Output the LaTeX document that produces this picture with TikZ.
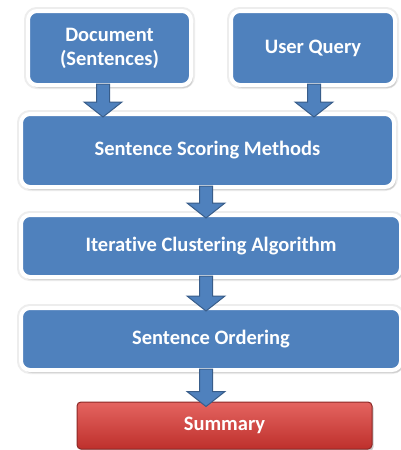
\documentclass[tikz,border=0pt]{standalone}
\usepackage{fontspec}
\setmainfont{Carlito}[Ligatures={NoCommon}]
\usetikzlibrary{calc,shadows}
\definecolor{boxblue}{RGB}{79,129,189}
\definecolor{edgeblue}{RGB}{56,93,138}
\definecolor{redtop}{RGB}{228,100,96}
\definecolor{redbot}{RGB}{190,48,44}
\definecolor{rededge}{RGB}{140,40,38}
\tikzset{
  bluebox/.style={rectangle, rounded corners=9pt, fill=boxblue, draw=white, line width=4pt,
    preaction={draw=black!7, line width=8pt},
    drop shadow={shadow xshift=2pt, shadow yshift=-3pt, opacity=0.12, fill=black},
    inner sep=0pt, text=white, align=center,
    font=\bfseries\fontsize{20.5}{24}\selectfont},
  redbox/.style={rectangle, rounded corners=4pt, top color=redtop, bottom color=redbot,
    draw=rededge, line width=1pt,
    drop shadow={shadow xshift=1.5pt, shadow yshift=-2pt, opacity=0.2, fill=black},
    inner sep=0pt, text=white, font=\bfseries\fontsize{20.5}{24}\selectfont},
  barrow/.style={fill=boxblue, draw=edgeblue, line width=1pt, line join=miter}
}
\newcommand\blockarrow[3]{%
  \path[barrow] let \p1=(#1.south), \p2=(#2.north) in
    ({#3pt-6.5pt},{\y1+3pt}) -- ({#3pt+6.5pt},{\y1+3pt}) --
    ({#3pt+6.5pt},{\y2+10pt}) -- ({#3pt+19pt},{\y2+10pt}) --
    ({#3pt},{\y2-5pt}) -- ({#3pt-19pt},{\y2+10pt}) --
    ({#3pt-6.5pt},{\y2+10pt}) -- cycle;
}
\begin{document}
\begin{tikzpicture}[x=1pt,y=1pt]
\useasboundingbox[fill=white] (0,0) rectangle (401,-450);
\node[bluebox, minimum width=163pt, minimum height=74pt] (doc) at (109.5,-48) {Document\\(Sentences)};
\node[bluebox, minimum width=164pt, minimum height=74pt] (uq) at (313,-48) {User Query};
\node[bluebox, minimum width=373pt, minimum height=73pt] (ssm) at (207.5,-150.5) {Sentence Scoring Methods};
\node[bluebox, minimum width=380pt, minimum height=62pt] (ica) at (211,-246) {Iterative Clustering Algorithm};
\node[bluebox, minimum width=380pt, minimum height=62pt] (so) at (211,-339) {Sentence Ordering};
\node[redbox, minimum width=295pt, minimum height=47pt] (sum) at (224.5,-425.5) {Summary};
\blockarrow{doc}{ssm}{103}
\blockarrow{uq}{ssm}{314}
\blockarrow{ssm}{ica}{206}
\blockarrow{ica}{so}{206}
\blockarrow{so}{sum}{206}
\end{tikzpicture}
\end{document}
